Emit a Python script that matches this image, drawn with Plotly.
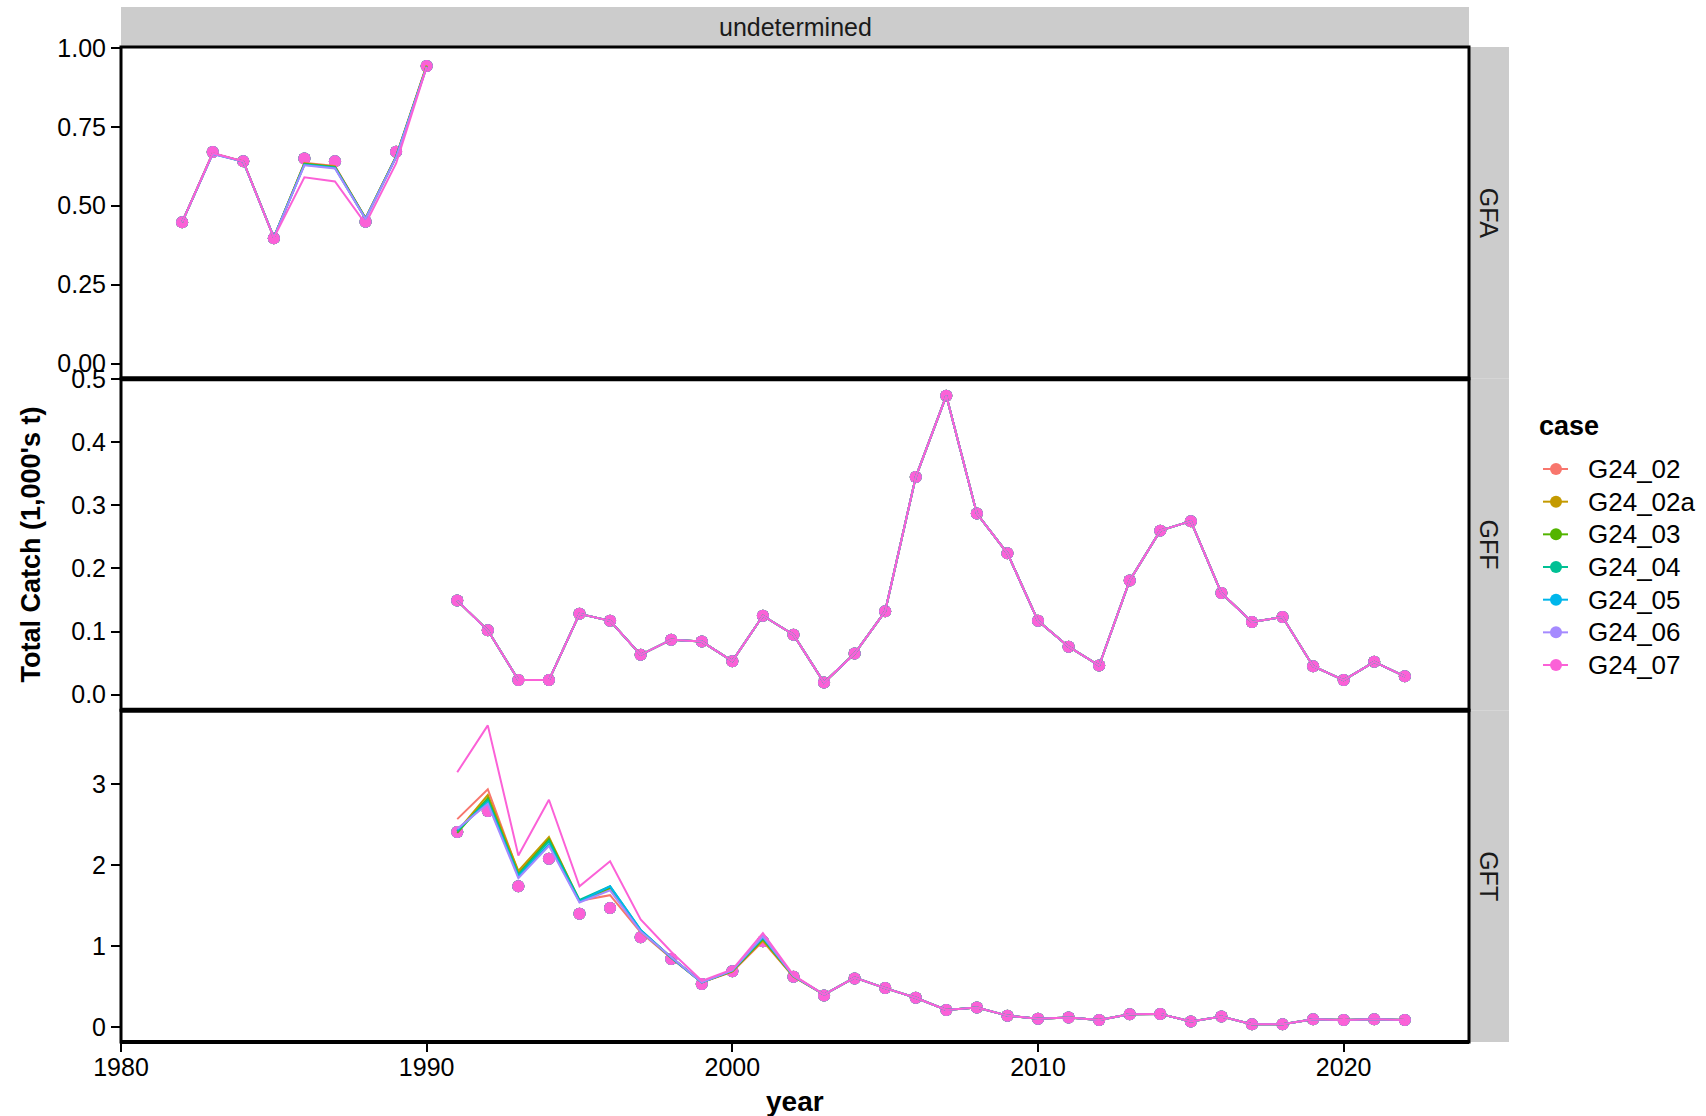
import plotly.graph_objects as go
from plotly.subplots import make_subplots

# ---------------- data ----------------
cases = ["G24_02", "G24_02a", "G24_03", "G24_04", "G24_05", "G24_06", "G24_07"]
case_colors = ["#F8766D", "#C49A00", "#53B400", "#00C094", "#00B6EB", "#A58AFF", "#FB61D7"]

# GFA fleet, 1982-1990
years_gfa = [1982, 1983, 1984, 1985, 1986, 1987, 1988, 1989, 1990]
obs_gfa = [0.448, 0.670, 0.641, 0.397, 0.650, 0.641, 0.449, 0.671, 0.943]
pred_gfa_g24_02 = [0.448, 0.666, 0.641, 0.400, 0.636, 0.626, 0.461, 0.657, 0.946]
pred_gfa_g24_02a = [0.448, 0.666, 0.641, 0.400, 0.634, 0.624, 0.460, 0.656, 0.944]
pred_gfa_g24_03 = [0.448, 0.666, 0.640, 0.400, 0.633, 0.623, 0.460, 0.655, 0.942]
pred_gfa_g24_04 = [0.448, 0.665, 0.640, 0.400, 0.631, 0.621, 0.459, 0.655, 0.941]
pred_gfa_g24_05 = [0.448, 0.665, 0.640, 0.400, 0.630, 0.620, 0.459, 0.654, 0.940]
pred_gfa_g24_06 = [0.448, 0.664, 0.640, 0.400, 0.628, 0.618, 0.458, 0.653, 0.940]
pred_gfa_g24_07 = [0.448, 0.667, 0.641, 0.398, 0.590, 0.577, 0.443, 0.634, 0.940]

# GFF fleet, 1991-2022
years_gff = list(range(1991, 2023))
obs_gff = [0.149, 0.102, 0.023, 0.023, 0.128, 0.117, 0.063, 0.087, 0.084, 0.053,
           0.125, 0.095, 0.019, 0.065, 0.132, 0.345, 0.474, 0.287, 0.224, 0.117,
           0.076, 0.046, 0.181, 0.260, 0.275, 0.161, 0.115, 0.123, 0.045, 0.023,
           0.052, 0.029]
pred_gff = [0.149, 0.102, 0.023, 0.023, 0.128, 0.117, 0.063, 0.087, 0.084, 0.053,
            0.125, 0.095, 0.019, 0.065, 0.132, 0.345, 0.474, 0.287, 0.224, 0.117,
            0.076, 0.046, 0.181, 0.260, 0.275, 0.161, 0.115, 0.123, 0.045, 0.023,
            0.052, 0.029]

# GFT fleet, 1991-2022
years_gft = list(range(1991, 2023))
obs_gft = [2.41, 2.67, 1.74, 2.08, 1.40, 1.47, 1.11, 0.84, 0.53, 0.69,
           1.06, 0.62, 0.39, 0.60, 0.48, 0.36, 0.21, 0.24, 0.137, 0.100,
           0.116, 0.087, 0.157, 0.161, 0.066, 0.128, 0.033, 0.033, 0.095, 0.087,
           0.095, 0.087]
# predicted catch 1991-2002 per case; from 2003 on all cases share the same fit
pred_gft_g24_02 = [2.57, 2.94, 1.91, 2.33, 1.56, 1.63, 1.17, 0.85, 0.55, 0.68, 1.06, 0.62]
pred_gft_g24_02a = [2.42, 2.87, 1.93, 2.35, 1.56, 1.70, 1.19, 0.86, 0.55, 0.69, 1.07, 0.62]
pred_gft_g24_03 = [2.40, 2.83, 1.89, 2.32, 1.56, 1.72, 1.19, 0.86, 0.55, 0.69, 1.09, 0.63]
pred_gft_g24_04 = [2.42, 2.81, 1.88, 2.30, 1.57, 1.74, 1.20, 0.86, 0.55, 0.70, 1.10, 0.63]
pred_gft_g24_05 = [2.44, 2.78, 1.86, 2.26, 1.55, 1.74, 1.20, 0.86, 0.55, 0.70, 1.11, 0.63]
pred_gft_g24_06 = [2.45, 2.76, 1.84, 2.24, 1.54, 1.69, 1.18, 0.86, 0.55, 0.70, 1.12, 0.63]
pred_gft_g24_07 = [3.15, 3.73, 2.12, 2.81, 1.74, 2.05, 1.33, 0.93, 0.57, 0.71, 1.16, 0.64]
pred_gft_tail = [0.40, 0.61, 0.48, 0.36, 0.21, 0.24, 0.14, 0.10, 0.116, 0.087,
                 0.157, 0.161, 0.066, 0.128, 0.033, 0.033, 0.095, 0.087, 0.095, 0.087]

pred_gfa = [pred_gfa_g24_02, pred_gfa_g24_02a, pred_gfa_g24_03, pred_gfa_g24_04,
            pred_gfa_g24_05, pred_gfa_g24_06, pred_gfa_g24_07]
pred_gft_head = [pred_gft_g24_02, pred_gft_g24_02a, pred_gft_g24_03, pred_gft_g24_04,
                 pred_gft_g24_05, pred_gft_g24_06, pred_gft_g24_07]

fleets = ["GFA", "GFF", "GFT"]
strip_top = "undetermined"
legend_title = "case"
x_ticks = [1980, 1990, 2000, 2010, 2020]

# ---------------- figure ----------------
W, H = 1706, 1116
ML, MR, MT, MB = 121, 237, 47, 74
PW = W - ML - MR
PH = H - MT - MB
FONT = "Liberation Sans, Arial, sans-serif"


def px_x(px):
    """pixel column -> paper x"""
    return (px - ML) / PW


def px_y(py):
    """pixel row -> paper y"""
    return ((H - MB) - py) / PH


fig = make_subplots(rows=3, cols=1, shared_xaxes=True, vertical_spacing=0)

panels = [
    (1, years_gfa, obs_gfa, [pred_gfa[i] for i in range(len(cases))]),
    (2, years_gff, obs_gff, [pred_gff for _ in cases]),
    (3, years_gft, obs_gft, [pred_gft_head[i] + pred_gft_tail for i in range(len(cases))]),
]

# observed points (all cases), then fitted lines (all cases)
for row, yrs, obs, preds in panels:
    for name, col in zip(cases, case_colors):
        fig.add_trace(go.Scatter(x=yrs, y=obs, mode="markers", name=name,
                                 marker=dict(color=col, size=12),
                                 showlegend=False, hoverinfo="skip"), row=row, col=1)
for row, yrs, obs, preds in panels:
    for name, col, pred in zip(cases, case_colors, preds):
        fig.add_trace(go.Scatter(x=yrs, y=pred, mode="lines", name=name,
                                 line=dict(color=col, width=2),
                                 showlegend=False, hoverinfo="skip"), row=row, col=1)

domains = {1: [2 / 3, 1.0], 2: [1 / 3, 2 / 3], 3: [0.0, 1 / 3]}
y_ranges = {1: [-0.048, 1.003], 2: [-0.025, 0.501], 3: [-0.1865, 3.916]}
y_ticks = {1: ([0, 0.25, 0.5, 0.75, 1.0], ".2f"),
           2: ([0, 0.1, 0.2, 0.3, 0.4, 0.5], ".1f"),
           3: ([0, 1, 2, 3], "d")}

axis_common = dict(showgrid=False, zeroline=False, ticks="outside", ticklen=9,
                   tickwidth=2, tickcolor="black", showline=False,
                   tickfont=dict(family=FONT, size=25, color="black"))

for r in (1, 2, 3):
    tv, fmt = y_ticks[r]
    fig.update_yaxes(domain=domains[r], range=y_ranges[r], tickvals=tv,
                     tickformat=fmt, row=r, col=1, **axis_common)
    fig.update_xaxes(range=[1980, 2024.1], tickvals=x_ticks,
                     showticklabels=(r == 3), row=r, col=1, **axis_common)
    if r != 3:
        fig.update_xaxes(ticks="", row=r, col=1)
fig.update_xaxes(ticklabelstandoff=-6, row=3, col=1)

shapes = []
strip_w = 40 / PW
strip_h = 40 / PH
# strips
shapes.append(dict(type="rect", xref="paper", yref="paper", x0=0, x1=1,
                   y0=1, y1=1 + strip_h, fillcolor="#CCCCCC", line=dict(width=0),
                   layer="below"))
for r in (1, 2, 3):
    d = domains[r]
    shapes.append(dict(type="rect", xref="paper", yref="paper", x0=1, x1=1 + strip_w,
                       y0=d[0], y1=d[1], fillcolor="#CCCCCC", line=dict(width=0),
                       layer="below"))
# panel borders
for r in (1, 2, 3):
    d = domains[r]
    shapes.append(dict(type="rect", xref="paper", yref="paper", x0=0, x1=1,
                       y0=d[0], y1=d[1], line=dict(color="black", width=3),
                       fillcolor="rgba(0,0,0,0)", layer="above"))
# heavier rules where panels meet and along the bottom
for yy, wd in ((1 / 3, 5), (2 / 3, 5), (0.0, 4)):
    shapes.append(dict(type="line", xref="paper", yref="paper", x0=0, x1=1,
                       y0=yy, y1=yy, line=dict(color="black", width=wd),
                       layer="above"))

annotations = [
    dict(text=strip_top, xref="paper", yref="paper", x=0.5, y=1 + strip_h / 2,
         showarrow=False, font=dict(family=FONT, size=25, color="#1A1A1A"),
         xanchor="center", yanchor="middle"),
    dict(text="<b>Total Catch (1,000's t)</b>", xref="paper", yref="paper",
         x=px_x(30), y=0.5, textangle=-90, showarrow=False,
         font=dict(family=FONT, size=27, color="black"),
         xanchor="center", yanchor="middle"),
    dict(text="<b>year</b>", xref="paper", yref="paper", x=0.5,
         y=px_y(1101), showarrow=False,
         font=dict(family=FONT, size=28, color="black"),
         xanchor="center", yanchor="middle"),
]
for r, name in zip((1, 2, 3), fleets):
    d = domains[r]
    annotations.append(dict(text=name, xref="paper", yref="paper",
                            x=1 + strip_w / 2, y=(d[0] + d[1]) / 2, textangle=90,
                            showarrow=False,
                            font=dict(family=FONT, size=25, color="#1A1A1A"),
                            xanchor="center", yanchor="middle"))

# legend: title, then one line+dot key per case
annotations.append(dict(text="<b>" + legend_title + "</b>", xref="paper", yref="paper",
                        x=px_x(1537), y=px_y(426), showarrow=False,
                        font=dict(family=FONT, size=27, color="black"),
                        xanchor="left", yanchor="middle"))
key_top, key_step = 469, 32.67
for i, (name, col) in enumerate(zip(cases, case_colors)):
    ky = key_top + i * key_step
    shapes.append(dict(type="line", xref="paper", yref="paper",
                       x0=px_x(1543), x1=px_x(1568), y0=px_y(ky), y1=px_y(ky),
                       line=dict(color=col, width=2)))
    shapes.append(dict(type="circle", xref="paper", yref="paper",
                       x0=px_x(1556 - 6), x1=px_x(1556 + 6),
                       y0=px_y(ky + 6), y1=px_y(ky - 6),
                       fillcolor=col, line=dict(width=0)))
    annotations.append(dict(text=name, xref="paper", yref="paper",
                            x=px_x(1586), y=px_y(ky), showarrow=False,
                            font=dict(family=FONT, size=26, color="black"),
                            xanchor="left", yanchor="middle"))

fig.update_layout(
    width=W, height=H,
    margin=dict(l=ML, r=MR, t=MT, b=MB, autoexpand=False),
    paper_bgcolor="white", plot_bgcolor="white",
    font=dict(family=FONT, color="black"),
    shapes=shapes, annotations=annotations,
    showlegend=False,
)

fig.write_html("out.html")
